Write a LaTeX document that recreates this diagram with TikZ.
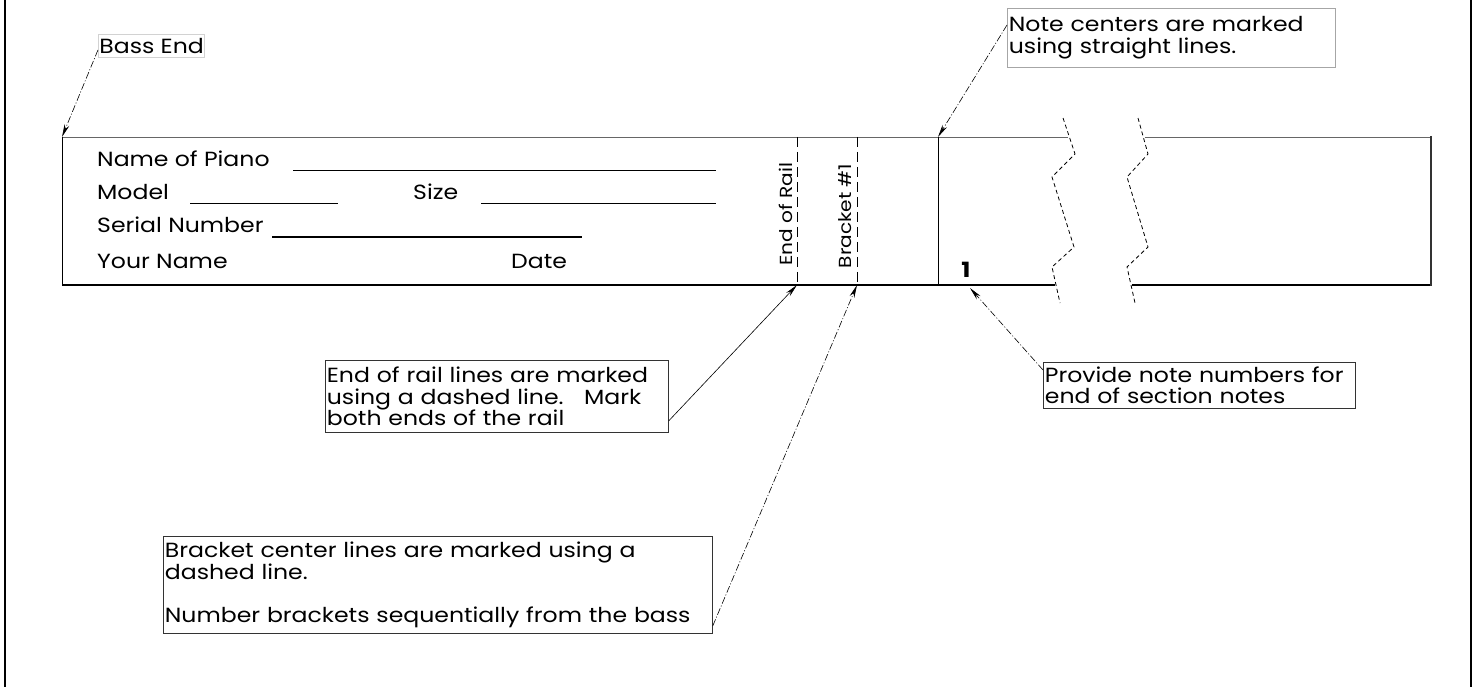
\documentclass[tikz,border=0pt]{standalone}
\usepackage{fontspec}
\setmainfont{Poppins}[FakeStretch=1.15]
\usetikzlibrary{arrows.meta}
\begin{document}
\begin{tikzpicture}[x=1pt,y=-1pt,
  lbl/.style={font=\fontsize{20.5}{21.5}\selectfont, inner sep=0pt, anchor=base west},
  callout/.style={draw=gray!70, line width=0.8pt, anchor=north west, align=left, inner sep=1.5pt, font=\fontsize{20.5}{21.5}\selectfont},
  tip/.style={-{Stealth[length=13pt,width=5pt]}},
  leader/.style={tip, line width=0.6pt, dash pattern=on 7pt off 2pt on 1pt off 2pt},
  blank/.style={line width=1pt},
  railmark/.style={line width=0.8pt, dash pattern=on 10pt off 5pt},
  breakline/.style={line width=0.8pt, dash pattern=on 4pt off 3pt},
  frame/.style={line width=1.5pt},
  vlabel/.style={rotate=90, font=\fontsize{17.5}{20}\selectfont, inner sep=0pt}
]
\useasboundingbox (0,0) rectangle (1476,687);
% outer frame
\draw[frame] (5,0) -- (5,687);
\draw[frame] (1471,0) -- (1471,687);

% rail
\coordinate (railTL) at (62,137);
\coordinate (railBL) at (62,285);
\draw[line width=0.8pt, gray!80!black] (railTL) -- (1068,137);
\draw[line width=0.8pt, gray!80!black] (1145,137) -- (1431,137);
\draw[line width=1.3pt] (railBL) -- (1055,285);
\draw[line width=1.3pt] (1132,285) -- (1431,285);
\draw[line width=0.8pt] (railTL) -- (railBL);
\draw[line width=2pt, black!80] (1431,136) -- (1431,286);

% break lines
\draw[breakline] (1063,118) -- (1075,154) -- (1052,177) -- (1074,247) -- (1052,267) -- (1060,303);
\draw[breakline] (1138,118) -- (1148,154) -- (1127,177) -- (1148,247) -- (1127,267) -- (1135,303);

% note center line
\coordinate (noteT) at (938,137);
\draw[line width=1pt] (noteT) -- (938,285);
\node[font=\bfseries\fontsize{21}{24}\selectfont, inner sep=0pt] (one) at (966,270) {1};
\coordinate (oneB) at (970,288);

% end of rail and bracket lines
\coordinate (railB) at (797,285);
\coordinate (brkB) at (857,285);
\draw[railmark] (797,137) -- (railB);
\draw[railmark] (857,137) -- (brkB);
\node[vlabel] (eor) at (786,214) {End of Rail};
\node[vlabel] (b1) at (845,216) {Bracket \#1};

% form
\node[lbl] (nop) at (97,167) {Name of Piano};
\draw[blank] (293,171) -- (716,171);
\node[lbl] (mod) at (97,200) {Model};
\draw[blank] (190,204) -- (338,204);
\node[lbl] (siz) at (413,200) {Size};
\draw[blank] (481,204) -- (716,204);
\node[lbl] (ser) at (97,233) {Serial Number};
\draw[line width=1.8pt] (272,237) -- (582,237);
\node[lbl] (yn) at (97,269) {Your Name};
\node[lbl] (dat) at (511,269) {Date};

% callouts
\node[callout, draw=gray!35, minimum width=104pt, minimum height=23pt, inner sep=1pt] (bass) at (98,34) {Bass End};
\draw[leader] (bass.west) ++(0,4) coordinate (bassL) (bassL) -- (railTL);

\node[callout, text width=325pt, minimum height=59pt] (notec) at (1007,8) {Note centers are marked\\using straight lines.};
\draw[leader] ([yshift=-17pt]notec.north west) -- (noteT);

\node[callout, text width=340pt, minimum height=72pt, draw=black!80] (eorc) at (325,360) {End of rail lines are marked\\using a dashed line.\ \ \ Mark\\both ends of the rail};
\draw[tip, line width=0.6pt] ([yshift=12pt]eorc.south east) -- (railB);

\node[callout, text width=546pt, minimum height=97pt, draw=black!80] (brkc) at (163,536) {Bracket center lines are marked using a\\dashed line.\\[21.5pt]Number brackets sequentially from the bass};
\draw[leader] ([yshift=8pt]brkc.south east) -- (brkB);

\node[callout, text width=309pt, minimum height=46pt, draw=black!80] (provc) at (1043,362) {Provide note numbers for\\end of section notes};
\draw[leader] ([yshift=-8pt]provc.north west) -- (oneB);
\end{tikzpicture}
\end{document}
